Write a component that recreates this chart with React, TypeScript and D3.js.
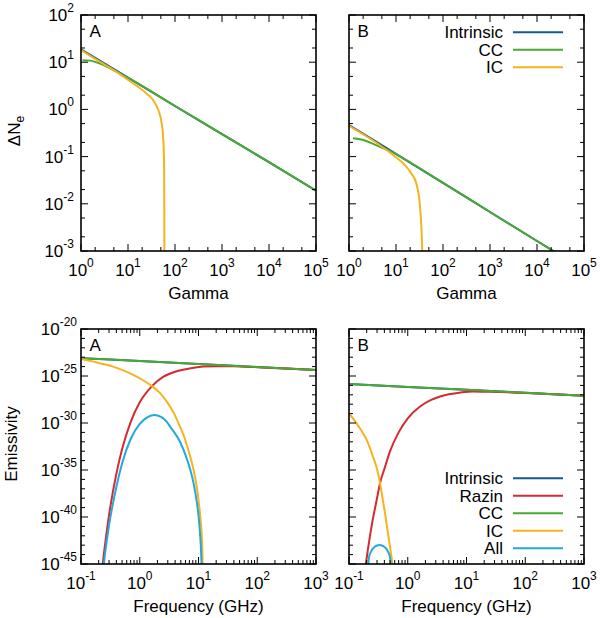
import * as d3 from "d3";

type Pt = [number, number];

// axis tick values
const gammaMajor = [1, 10, 100, 1000, 10000, 100000];
const nMajor = [1e-3, 1e-2, 1e-1, 1, 10, 100];
const freqMajor = [0.1, 1, 10, 100, 1000];
const emisMajorExp = [-45, -40, -35, -30, -25, -20];

// top row, panel A: [gamma, delta N_e]
const nIntrinsicA: Pt[] = [[1, 18.8], [10, 4.7], [100, 1.18], [1000, 0.3], [10000, 0.076], [100000, 0.019]];
const nCCA: Pt[] = [[1.08, 11.0], [1.55, 10.8], [2.54, 9.4], [3.52, 8.1], [5, 6.75], [7, 5.6], [10, 4.65], [100, 1.18], [1000, 0.3], [10000, 0.076], [100000, 0.019]];
const nICA: Pt[] = [[1, 18.0], [2.16, 11.2], [4.87, 6.85], [11, 3.95], [25, 2.15], [34.6, 1.55], [44.2, 0.97], [52, 0.51], [56.5, 0.225], [58.3, 0.085], [58.9, 0.03], [59.2, 0.008], [59.4, 0.0008]];

// top row, panel B
const nIntrinsicB: Pt[] = [[1, 0.467], [10, 0.114], [100, 0.0278], [1000, 0.0067], [10000, 0.00163], [100000, 0.0004]];
const nCCB: Pt[] = [[1.22, 0.244], [2.16, 0.22], [3.52, 0.18], [5.74, 0.147], [8, 0.128], [10, 0.113], [100, 0.0278], [1000, 0.0067], [10000, 0.00163], [100000, 0.0004]];
const nICB: Pt[] = [[1, 0.45], [2.16, 0.283], [4.87, 0.166], [9.37, 0.102], [15.3, 0.067], [21.2, 0.044], [27.1, 0.027], [30.8, 0.0141], [32.9, 0.0074], [34.5, 0.0035], [35.6, 0.0017], [36.3, 0.0009]];

// bottom row, panel A: [frequency GHz, log10 emissivity]
const eIntrinsicA: Pt[] = [[0.1, -23.1], [1, -23.41], [10, -23.72], [100, -24.04], [1000, -24.35]];
const eRazinA: Pt[] = [[0.228, -45.6], [0.25, -43.5], [0.3, -39.8], [0.4, -35.4], [0.5, -32.8], [0.7, -29.9], [1.0, -27.8], [1.6, -26.1], [2.5, -25.1], [4, -24.55], [7, -24.2], [12, -24.0], [20, -23.95], [40, -23.97], [100, -24.06], [1000, -24.35]];
const eCCA: Pt[] = [[0.1, -23.1], [1, -23.41], [10, -23.72], [100, -24.04], [1000, -24.35]];
const eICA: Pt[] = [[0.1, -23.2], [0.15, -23.42], [0.21, -23.65], [0.35, -24.0], [0.5, -24.35], [0.776, -24.89], [1.1, -25.4], [1.6, -26.06], [2.2, -26.8], [2.87, -27.7], [3.8, -28.95], [4.84, -30.39], [5.8, -31.6], [6.7, -32.87], [7.7, -34.2], [8.7, -35.7], [9.6, -37.3], [10.3, -38.9], [10.9, -40.4], [11.3, -41.7], [11.6, -43.4], [11.85, -45.6]];
const eAllA: Pt[] = [[0.24, -45.5], [0.25, -44.5], [0.3, -40.9], [0.4, -36.8], [0.5, -34.3], [0.7, -31.7], [1.0, -30.1], [1.3, -29.45], [1.75, -29.15], [2.3, -29.35], [2.87, -29.85], [3.3, -30.4], [4.84, -32.0], [6, -33.4], [7.2, -34.9], [8.3, -36.5], [9.3, -38.3], [10.1, -40.1], [10.6, -41.7], [11.0, -43.3], [11.35, -45.5]];

// bottom row, panel B
const eIntrinsicB: Pt[] = [[0.1, -25.85], [1, -26.16], [10, -26.47], [100, -26.79], [1000, -27.1]];
const eRazinB: Pt[] = [[0.185, -46], [0.19, -45.4], [0.21, -43.45], [0.25, -40.5], [0.3, -38.0], [0.337, -36.4], [0.4, -34.9], [0.5, -33.0], [0.7, -31.0], [1.0, -29.5], [1.62, -28.25], [2.5, -27.55], [3.54, -27.18], [5, -26.95], [8, -26.75], [13, -26.64], [25, -26.68], [50, -26.74], [100, -26.81], [1000, -27.1]];
const eCCB: Pt[] = [[0.1, -25.85], [1, -26.16], [10, -26.47], [100, -26.79], [1000, -27.1]];
const eICB: Pt[] = [[0.1, -28.97], [0.13, -29.9], [0.16, -30.75], [0.2, -31.8], [0.25, -33.4], [0.3, -34.9], [0.337, -36.4], [0.37, -37.9], [0.41, -39.6], [0.45, -41.3], [0.5, -43.2], [0.53, -44.3], [0.56, -45.6]];
const eAllB: Pt[] = [[0.2125, -45.3], [0.219, -44.3], [0.237, -43.68], [0.266, -43.23], [0.3, -43.03], [0.33, -42.98], [0.364, -43.03], [0.41, -43.23], [0.461, -43.68], [0.499, -44.3], [0.514, -45.3]];

const colors: Record<string, string> = {
  Intrinsic: "#17598f",
  Razin: "#d42a30",
  CC: "#4aa833",
  IC: "#f5b31f",
  All: "#25a8de",
};

const font = "'Liberation Sans', Arial, Helvetica, sans-serif";

interface Series {
  name: string;
  data: Pt[];
}

interface PanelProps {
  id: string;
  left: number;
  top: number;
  right: number;
  bottom: number;
  xDomain: [number, number];
  yDomain: [number, number];
  xMajor: number[];
  xMinor: number[];
  yMajor: number[];
  yMinor: number[];
  xExp: (v: number) => string;
  yExp: (v: number) => string;
  yLabelGap: number;
  showYLabels: boolean;
  series: Series[];
  letter: string;
  xTitle: string;
  legend?: string[];
  legendTop?: number;
}

const Pow10 = ({ x, y, exp, anchor }: { x: number; y: number; exp: string; anchor: string }) => (
  <text x={x} y={y} textAnchor={anchor} fontSize={17} fontFamily={font}>
    10<tspan dy={-9} fontSize={12}>{exp}</tspan>
  </text>
);

const Panel = (p: PanelProps) => {
  const x = d3.scaleLog().domain(p.xDomain).range([p.left, p.right]);
  const y = d3.scaleLog().domain(p.yDomain).range([p.bottom, p.top]);
  const line = d3
    .line<Pt>()
    .x((d) => x(d[0]))
    .y((d) => y(d[1]))
    .curve(d3.curveMonotoneX);
  const major = 7;
  const minor = 4;

  return (
    <g>
      <defs>
        <clipPath id={p.id}>
          <rect x={p.left} y={p.top} width={p.right - p.left} height={p.bottom - p.top} />
        </clipPath>
      </defs>

      <g clipPath={`url(#${p.id})`} fill="none" strokeWidth={2} strokeLinejoin="round">
        {p.series.map((s) => (
          <path key={s.name} d={line(s.data) || ""} stroke={colors[s.name]} />
        ))}
      </g>

      {/* ticks, inward on all four sides */}
      <g stroke="#000" strokeWidth={1}>
        {p.xMajor.map((v) => (
          <g key={"xm" + v}>
            <line x1={x(v)} x2={x(v)} y1={p.bottom} y2={p.bottom - major} />
            <line x1={x(v)} x2={x(v)} y1={p.top} y2={p.top + major} />
          </g>
        ))}
        {p.xMinor.map((v) => (
          <g key={"xn" + v}>
            <line x1={x(v)} x2={x(v)} y1={p.bottom} y2={p.bottom - minor} />
            <line x1={x(v)} x2={x(v)} y1={p.top} y2={p.top + minor} />
          </g>
        ))}
        {p.yMajor.map((v) => (
          <g key={"ym" + v}>
            <line x1={p.left} x2={p.left + major} y1={y(v)} y2={y(v)} />
            <line x1={p.right} x2={p.right - major} y1={y(v)} y2={y(v)} />
          </g>
        ))}
        {p.yMinor.map((v) => (
          <g key={"yn" + v}>
            <line x1={p.left} x2={p.left + minor} y1={y(v)} y2={y(v)} />
            <line x1={p.right} x2={p.right - minor} y1={y(v)} y2={y(v)} />
          </g>
        ))}
      </g>

      <rect
        x={p.left}
        y={p.top}
        width={p.right - p.left}
        height={p.bottom - p.top}
        fill="none"
        stroke="#000"
        strokeWidth={1.6}
      />

      {p.xMajor.map((v) => (
        <Pow10 key={"xl" + v} x={x(v)} y={p.bottom + 25} exp={p.xExp(v)} anchor="middle" />
      ))}
      {p.showYLabels &&
        p.yMajor.map((v) => (
          <Pow10 key={"yl" + v} x={p.left - p.yLabelGap} y={y(v) + 6} exp={p.yExp(v)} anchor="end" />
        ))}

      <text x={(p.left + p.right) / 2} y={p.bottom + 48} textAnchor="middle" fontSize={17} fontFamily={font}>
        {p.xTitle}
      </text>
      <text x={p.left + 8.5} y={p.top + 21.5} fontSize={17} fontFamily={font}>
        {p.letter}
      </text>

      {p.legend &&
        p.legend.map((name, i) => {
          const ly = (p.legendTop || 0) + i * 17.5;
          return (
            <g key={"lg" + name}>
              <text x={p.right - 81} y={ly + 6} textAnchor="end" fontSize={17} fontFamily={font}>
                {name}
              </text>
              <line x1={p.right - 71} x2={p.right - 21} y1={ly} y2={ly} stroke={colors[name]} strokeWidth={2} />
            </g>
          );
        })}
    </g>
  );
};

const minor25 = (majors: number[]) =>
  majors.slice(0, -1).flatMap((d) => [2 * d, 5 * d]);
const minorAll = (majors: number[]) =>
  majors.slice(0, -1).flatMap((d) => [2, 3, 4, 5, 6, 7, 8, 9].map((k) => k * d));

const fromLog = (arr: Pt[]): Pt[] => arr.map(([f, e]) => [f, Math.pow(10, e)]);

const App = () => {
  const expOf = (v: number) => String(Math.round(Math.log10(v)));
  const emisMajor = emisMajorExp.map((e) => Math.pow(10, e));
  const emisMinor = d3.range(-44, -20).filter((e) => e % 5 !== 0).map((e) => Math.pow(10, e));

  const topCommon = {
    top: 15,
    bottom: 251,
    xDomain: [1, 1e5] as [number, number],
    yDomain: [1e-3, 1e2] as [number, number],
    xMajor: gammaMajor,
    xMinor: minor25(gammaMajor),
    yMajor: nMajor,
    yMinor: minor25(nMajor),
    xExp: expOf,
    yExp: expOf,
    yLabelGap: 7,
    xTitle: "Gamma",
  };
  const botCommon = {
    top: 329,
    bottom: 564,
    xDomain: [0.1, 1e3] as [number, number],
    yDomain: [1e-45, 1e-20] as [number, number],
    xMajor: freqMajor,
    xMinor: minorAll(freqMajor),
    yMajor: emisMajor,
    yMinor: emisMinor,
    xExp: expOf,
    yExp: expOf,
    yLabelGap: 4,
    xTitle: "Frequency (GHz)",
  };

  return (
    <svg width={600} height={618} style={{ position: "absolute", left: 0, top: 0, background: "#fff" }}>
      <rect width={600} height={618} fill="#fff" />
      <Panel
        id="clipTA"
        {...topCommon}
        left={81}
        right={316}
        showYLabels
        letter="A"
        series={[
          { name: "Intrinsic", data: nIntrinsicA },
          { name: "CC", data: nCCA },
          { name: "IC", data: nICA },
        ]}
      />
      <Panel
        id="clipTB"
        {...topCommon}
        left={349}
        right={584}
        showYLabels={false}
        letter="B"
        legend={["Intrinsic", "CC", "IC"]}
        legendTop={32.3}
        series={[
          { name: "Intrinsic", data: nIntrinsicB },
          { name: "CC", data: nCCB },
          { name: "IC", data: nICB },
        ]}
      />
      <Panel
        id="clipBA"
        {...botCommon}
        left={81}
        right={316}
        showYLabels
        letter="A"
        series={[
          { name: "Intrinsic", data: fromLog(eIntrinsicA) },
          { name: "Razin", data: fromLog(eRazinA) },
          { name: "CC", data: fromLog(eCCA) },
          { name: "IC", data: fromLog(eICA) },
          { name: "All", data: fromLog(eAllA) },
        ]}
      />
      <Panel
        id="clipBB"
        {...botCommon}
        left={349}
        right={584}
        showYLabels={false}
        letter="B"
        legend={["Intrinsic", "Razin", "CC", "IC", "All"]}
        legendTop={478.3}
        series={[
          { name: "Intrinsic", data: fromLog(eIntrinsicB) },
          { name: "Razin", data: fromLog(eRazinB) },
          { name: "CC", data: fromLog(eCCB) },
          { name: "IC", data: fromLog(eICB) },
          { name: "All", data: fromLog(eAllB) },
        ]}
      />

      <text transform="translate(20,131) rotate(-90)" textAnchor="middle" fontSize={17} fontFamily={font}>
        ΔN<tspan dy={4} fontSize={12}>e</tspan>
      </text>
      <text transform="translate(17,444) rotate(-90)" textAnchor="middle" fontSize={17} fontFamily={font}>
        Emissivity
      </text>
    </svg>
  );
};

export default App;
